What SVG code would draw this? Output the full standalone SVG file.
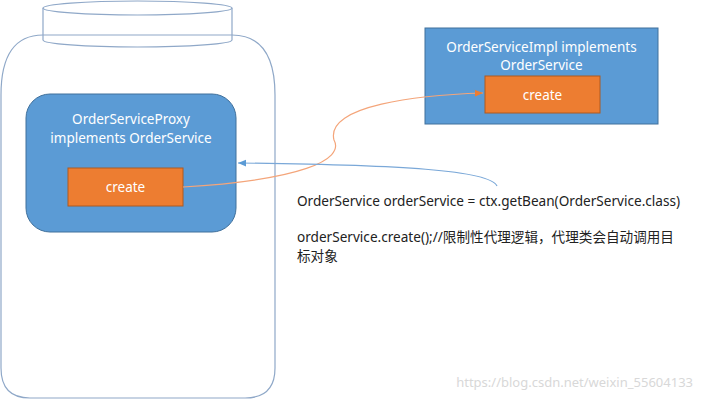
<svg xmlns="http://www.w3.org/2000/svg" width="702" height="401" viewBox="0 0 702 401">
<style>
.c{fill:none;stroke:#8fa8c8;stroke-width:1.2}
.b{fill:#5b9bd5;stroke:#41719c;stroke-width:1}
.o{fill:#ed7d31;stroke:#ae5a21;stroke-width:1}
.w{fill:#fff;font-family:"Noto Sans","Open Sans",sans-serif;font-size:13.5px;text-anchor:middle}
.k{fill:#222;font-family:"Noto Sans","Noto Sans CJK SC",sans-serif;font-size:13.6px}
</style>
<defs>
<marker id="ab" markerWidth="8" markerHeight="8" refX="7" refY="4" orient="auto"><path d="M0,1L7,4L0,7z" fill="#5b9bd5"/></marker>
<marker id="ao" markerWidth="8" markerHeight="8" refX="7" refY="4" orient="auto"><path d="M0,1L7,4L0,7z" fill="#ed7d31"/></marker>
</defs>
<g id="container">
<path class="c" d="M43,35 H232 Q275,35 275,95 V368 Q275,398 245,398 H30 Q1,398 1,368 V95 Q1,35 43,35 Z" fill="#fff"/>
<path class="c" d="M43,8 V40 A94.5,7 0 0 0 232,40 V8" fill="#fff"/>
<ellipse class="c" cx="137.5" cy="8" rx="94.5" ry="7" fill="#fff"/>
</g>
<g id="proxy">
<rect class="b" x="26" y="94" width="210" height="138" rx="24"/>
<text class="w" x="131" y="124">OrderServiceProxy</text>
<text class="w" x="131" y="143">implements OrderService</text>
</g>
<g id="proxyCreate">
<rect class="o" x="68" y="168" width="115" height="38"/>
<text class="w" x="125.5" y="192">create</text>
</g>
<g id="impl">
<rect class="b" x="425" y="28" width="233" height="96"/>
<text class="w" x="541.5" y="52">OrderServiceImpl implements</text>
<text class="w" x="541.5" y="70">OrderService</text>
</g>
<g id="implCreate">
<rect class="o" x="485" y="76" width="115" height="37"/>
<text class="w" x="542.5" y="100">create</text>
</g>
<g id="connectors">
<path d="M183,187 C300,180 345,160 334,140 C325,105 420,95 483,93" fill="none" stroke="#f4a57a" stroke-width="1.2" marker-end="url(#ao)"/>
<path d="M497,186 C490,170 400,165 238,163" fill="none" stroke="#7aa8d8" stroke-width="1.2" marker-end="url(#ab)"/>
</g>
<g id="texts">
<text class="k" x="297" y="206">OrderService orderService = ctx.getBean(OrderService.class)</text>
<text class="k" x="297" y="242">orderService.create();//限制性代理逻辑，代理类会自动调用目</text>
<text class="k" x="297" y="261">标对象</text>
<text x="693" y="387" text-anchor="end" fill="#d8d8d8" font-family="Noto Sans,sans-serif" font-size="13">https://blog.csdn.net/weixin_55604133</text>
</g>
</svg>
